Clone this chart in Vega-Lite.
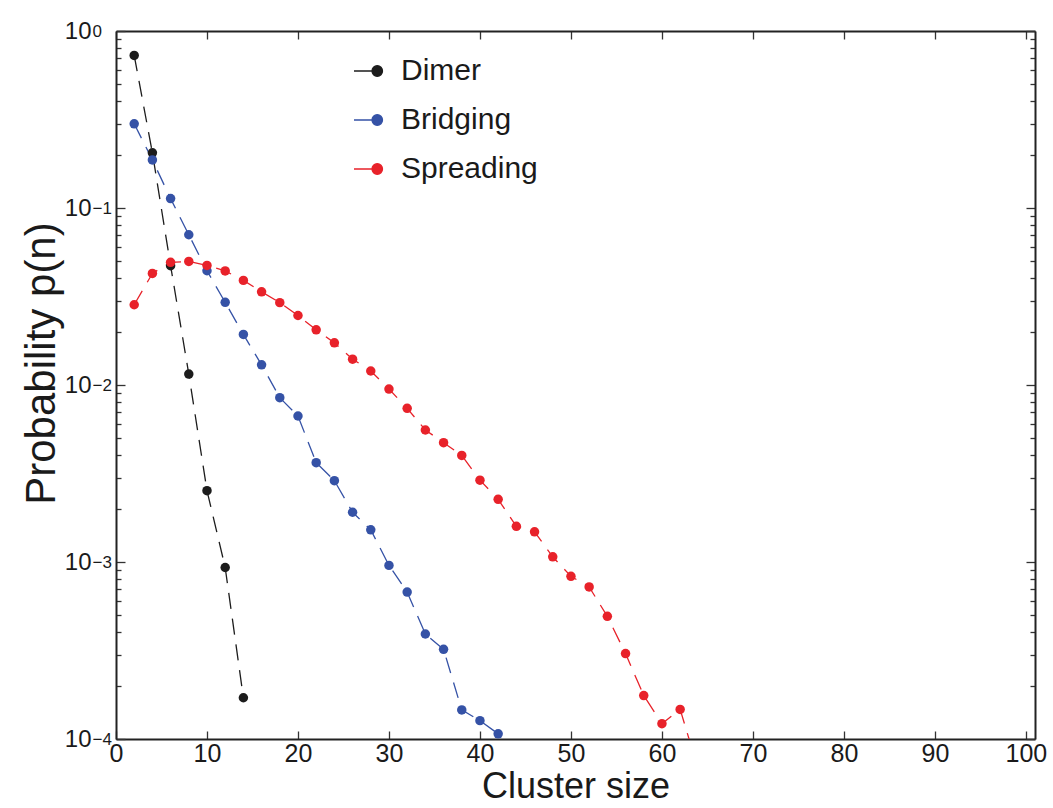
{
  "$schema": "https://vega.github.io/schema/vega-lite/v6.json",
  "width": 919,
  "height": 708,
  "autosize": "none",
  "padding": {"left": 116, "top": 31, "right": 18, "bottom": 69},
  "background": "white",
  "config": {
    "font": "Liberation Sans",
    "view": {"stroke": null},
    "legend": {
      "padding": 0,
      "labelFontSize": 30,
      "labelFont": "Liberation Sans",
      "labelColor": "#1a1a1a",
      "symbolType": "M-1,0H0.2M0.2,0a0.35,0.35 0 1,0 0.7,0a0.35,0.35 0 1,0 -0.7,0",
      "symbolSize": 900,
      "symbolStrokeWidth": 1.3,
      "symbolOpacity": 1,
      "labelOffset": 16,
      "rowPadding": 18,
      "title": null
    }
  },
  "data": {
    "values": [
      {"n": 2, "p": 0.728, "series": "Dimer"},
      {"n": 4, "p": 0.205, "series": "Dimer"},
      {"n": 6, "p": 0.0472, "series": "Dimer"},
      {"n": 8, "p": 0.01153, "series": "Dimer"},
      {"n": 10, "p": 0.00253, "series": "Dimer"},
      {"n": 12, "p": 0.000931, "series": "Dimer"},
      {"n": 14, "p": 0.000171, "series": "Dimer"},
      {"n": 2, "p": 0.299, "series": "Bridging"},
      {"n": 4, "p": 0.187, "series": "Bridging"},
      {"n": 6, "p": 0.113, "series": "Bridging"},
      {"n": 8, "p": 0.0706, "series": "Bridging"},
      {"n": 10, "p": 0.0442, "series": "Bridging"},
      {"n": 12, "p": 0.0293, "series": "Bridging"},
      {"n": 14, "p": 0.0193, "series": "Bridging"},
      {"n": 16, "p": 0.013, "series": "Bridging"},
      {"n": 18, "p": 0.00848, "series": "Bridging"},
      {"n": 20, "p": 0.00668, "series": "Bridging"},
      {"n": 22, "p": 0.00364, "series": "Bridging"},
      {"n": 24, "p": 0.00288, "series": "Bridging"},
      {"n": 26, "p": 0.00191, "series": "Bridging"},
      {"n": 28, "p": 0.00152, "series": "Bridging"},
      {"n": 30, "p": 0.000957, "series": "Bridging"},
      {"n": 32, "p": 0.000676, "series": "Bridging"},
      {"n": 34, "p": 0.000392, "series": "Bridging"},
      {"n": 36, "p": 0.000321, "series": "Bridging"},
      {"n": 38, "p": 0.000146, "series": "Bridging"},
      {"n": 40, "p": 0.000127, "series": "Bridging"},
      {"n": 42, "p": 0.000107, "series": "Bridging"},
      {"n": 2, "p": 0.0284, "series": "Spreading"},
      {"n": 4, "p": 0.0427, "series": "Spreading"},
      {"n": 6, "p": 0.0493, "series": "Spreading"},
      {"n": 8, "p": 0.0499, "series": "Spreading"},
      {"n": 10, "p": 0.0474, "series": "Spreading"},
      {"n": 12, "p": 0.0441, "series": "Spreading"},
      {"n": 14, "p": 0.039, "series": "Spreading"},
      {"n": 16, "p": 0.0336, "series": "Spreading"},
      {"n": 18, "p": 0.0292, "series": "Spreading"},
      {"n": 20, "p": 0.0247, "series": "Spreading"},
      {"n": 22, "p": 0.0205, "series": "Spreading"},
      {"n": 24, "p": 0.0173, "series": "Spreading"},
      {"n": 26, "p": 0.014, "series": "Spreading"},
      {"n": 28, "p": 0.012, "series": "Spreading"},
      {"n": 30, "p": 0.00949, "series": "Spreading"},
      {"n": 32, "p": 0.00738, "series": "Spreading"},
      {"n": 34, "p": 0.00557, "series": "Spreading"},
      {"n": 36, "p": 0.00472, "series": "Spreading"},
      {"n": 38, "p": 0.004, "series": "Spreading"},
      {"n": 40, "p": 0.0029, "series": "Spreading"},
      {"n": 42, "p": 0.00226, "series": "Spreading"},
      {"n": 44, "p": 0.00159, "series": "Spreading"},
      {"n": 46, "p": 0.00148, "series": "Spreading"},
      {"n": 48, "p": 0.00107, "series": "Spreading"},
      {"n": 50, "p": 0.00083, "series": "Spreading"},
      {"n": 52, "p": 0.000723, "series": "Spreading"},
      {"n": 54, "p": 0.000493, "series": "Spreading"},
      {"n": 56, "p": 0.000304, "series": "Spreading"},
      {"n": 58, "p": 0.000176, "series": "Spreading"},
      {"n": 60, "p": 0.000122, "series": "Spreading"},
      {"n": 62, "p": 0.000147, "series": "Spreading"},
      {"n": 64, "p": 0.000067, "series": "Spreading"}
    ]
  },
  "layer": [
    {
      "mark": {"type": "line", "strokeWidth": 1.3, "strokeDash": [16, 10], "clip": true},
      "encoding": {
        "x": {
          "field": "n", "type": "quantitative",
          "scale": {"domain": [0, 101], "nice": false, "zero": false},
          "axis": {
            "orient": "bottom", "offset": 0,
            "values": [0, 10, 20, 30, 40, 50, 60, 70, 80, 90, 100],
            "title": "Cluster size",
            "titleFontSize": 36, "titleFontWeight": "normal", "titleColor": "#1a1a1a", "titlePadding": 3,
            "labelFontSize": 25, "labelColor": "#1a1a1a", "labelPadding": 10, "labelFlush": false, "labelOverlap": false,
            "tickSize": -8, "tickColor": "#333", "tickWidth": 1.3,
            "domainColor": "#222", "domainWidth": 2, "grid": false
          }
        },
        "y": {
          "field": "p", "type": "quantitative",
          "scale": {"type": "log", "domain": [0.0001, 1], "nice": false},
          "axis": {
            "orient": "left", "offset": 0, "labels": false, "title": null,
            "values": [0.0001, 0.0002, 0.0003, 0.0004, 0.0005, 0.0006, 0.0007, 0.0008, 0.0009, 0.001, 0.002, 0.003, 0.004, 0.005, 0.006, 0.007, 0.008, 0.009, 0.01, 0.02, 0.03, 0.04, 0.05, 0.06, 0.07, 0.08, 0.09, 0.1, 0.2, 0.3, 0.4, 0.5, 0.6, 0.7, 0.8, 0.9, 1],
            "tickSize": {"condition": {"test": "abs(log(datum.value)/LN10 - round(log(datum.value)/LN10)) < 0.001", "value": -9}, "value": -5},
            "tickColor": "#333", "tickWidth": 1.3,
            "domainColor": "#222", "domainWidth": 2, "grid": false
          }
        },
        "color": {
          "field": "series", "type": "nominal",
          "scale": {"domain": ["Dimer", "Bridging", "Spreading"], "range": ["#1c1c1c", "#3552a6", "#e8222a"]},
          "legend": {"orient": "none", "legendX": 237, "legendY": 24}
        }
      }
    },
    {
      "mark": {"type": "point", "filled": true, "size": 90, "opacity": 1, "clip": true},
      "encoding": {
        "x": {"field": "n", "type": "quantitative", "axis": null},
        "y": {"field": "p", "type": "quantitative", "axis": null},
        "color": {
          "field": "series", "type": "nominal",
          "legend": {"orient": "none", "legendX": 237, "legendY": 24}
        }
      }
    },
    {
      "mark": {"type": "point", "opacity": 0},
      "encoding": {
        "x": {
          "field": "n", "type": "quantitative",
          "axis": {
            "orient": "top", "offset": 0, "labels": false, "title": null,
            "values": [0, 10, 20, 30, 40, 50, 60, 70, 80, 90, 100],
            "tickSize": -8, "tickColor": "#333", "tickWidth": 1.3,
            "domainColor": "#222", "domainWidth": 2, "grid": false
          }
        },
        "y": {
          "field": "p", "type": "quantitative",
          "axis": {
            "orient": "right", "offset": 0, "labels": false, "title": null,
            "values": [0.0001, 0.0002, 0.0003, 0.0004, 0.0005, 0.0006, 0.0007, 0.0008, 0.0009, 0.001, 0.002, 0.003, 0.004, 0.005, 0.006, 0.007, 0.008, 0.009, 0.01, 0.02, 0.03, 0.04, 0.05, 0.06, 0.07, 0.08, 0.09, 0.1, 0.2, 0.3, 0.4, 0.5, 0.6, 0.7, 0.8, 0.9, 1],
            "tickSize": {"condition": {"test": "abs(log(datum.value)/LN10 - round(log(datum.value)/LN10)) < 0.001", "value": -9}, "value": -5},
            "tickColor": "#333", "tickWidth": 1.3,
            "domainColor": "#222", "domainWidth": 2, "grid": false
          }
        }
      }
    },
    {
      "mark": {"type": "point", "opacity": 0},
      "encoding": {
        "y": {
          "field": "p", "type": "quantitative",
          "axis": {
            "orient": "left", "offset": 0, "ticks": false, "domain": false, "grid": false,
            "values": [0.0001, 0.001, 0.01, 0.1, 1],
            "labelExpr": "'10'",
            "labelFontSize": 24, "labelColor": "#1a1a1a", "labelPadding": 25, "labelFlush": false, "labelOverlap": false,
            "labelAlign": "right", "labelBaseline": "middle",
            "title": "Probability p(n)",
            "titleFontSize": 42, "titleFontWeight": "normal", "titleColor": "#1a1a1a", "titlePadding": 1, "titleY": 332
          }
        }
      }
    },
    {
      "mark": {"type": "point", "opacity": 0},
      "encoding": {
        "y": {
          "field": "p", "type": "quantitative",
          "axis": {
            "orient": "left", "offset": 0, "ticks": false, "domain": false, "grid": false, "title": null,
            "values": [0.0001, 0.001, 0.01, 0.1, 1],
            "labelExpr": "datum.value < 0.0005 ? '−4' : datum.value < 0.005 ? '−3' : datum.value < 0.05 ? '−2' : datum.value < 0.5 ? '−1' : '0'",
            "labelFontSize": 17, "labelColor": "#1a1a1a", "labelPadding": 24, "labelFlush": false, "labelOverlap": false,
            "labelAlign": "left", "labelBaseline": "middle", "labelDy": -13
          }
        }
      }
    }
  ],
  "resolve": {"axis": {"x": "independent", "y": "independent"}}
}
